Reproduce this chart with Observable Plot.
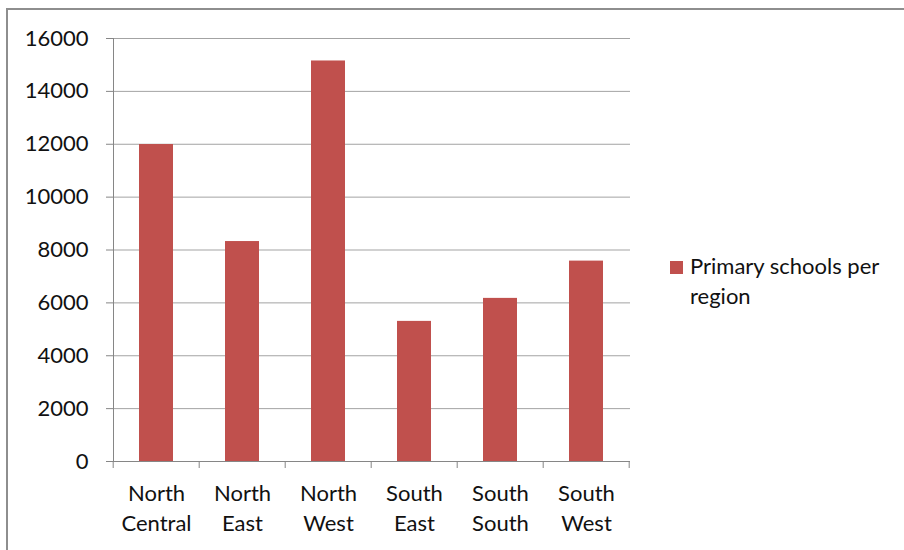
<!DOCTYPE html>
<html>
<head>
<meta charset="utf-8">
<script src="https://cdn.jsdelivr.net/npm/d3@7"></script>
<script src="https://cdn.jsdelivr.net/npm/@observablehq/plot@0.6"></script>
<style>
  html, body { margin: 0; padding: 0; background: #fff; overflow: hidden; }
  #wrap { position: relative; width: 904px; height: 550px; overflow: hidden; font-family: Lato, "Open Sans", sans-serif; }
  #border { position: absolute; left: 6px; top: 8px; width: 1200px; height: 1200px; border: 2px solid #8e8e8e; box-sizing: border-box; }
  #chart { position: absolute; left: 0; top: 0; }
  #legend { position: absolute; left: 670px; top: 251px; }
  #legend .swatch { position: absolute; left: 0; top: 10px; width: 13px; height: 13px; }
  #legend .label { position: absolute; left: 20px; top: 0; width: 220px; font-size: 22px; line-height: 30px; color: #111; }
</style>
</head>
<body>
<div id="wrap">
  <div id="border"></div>
  <div id="chart"></div>
  <div id="legend"><div class="swatch"></div><div class="label"></div></div>
</div>
<script>
// Number of primary schools in each region
const regions = ["North Central", "North East", "North West", "South East", "South South", "South West"];
const schools = [11990, 8320, 15150, 5300, 6170, 7580];
const yTicks = [0, 2000, 4000, 6000, 8000, 10000, 12000, 14000, 16000];
const seriesName = "Primary schools per region";
const barColor = "#C0504D";

const data = regions.map((region, i) => ({region, schools: schools[i]}));

const padInner = 0.6;
const padOuter = 0.3;

// Tick marks on the category axis, placed at the boundaries between bands
function bandBoundaries(index, scales) {
  const x = scales.x, y = scales.y;
  const step = x(regions[1]) - x(regions[0]);
  const edges = regions.map(r => x(r) - step * padOuter);
  edges.push(x(regions[regions.length - 1]) - step * padOuter + step);
  const y0 = y(0);
  const g = d3.create("svg:g").attr("stroke", "#868686").attr("stroke-width", 1);
  for (const e of edges) {
    g.append("line").attr("x1", e).attr("x2", e).attr("y1", y0).attr("y2", y0 + 7);
  }
  return g.node();
}

const chart = Plot.plot({
  width: 904,
  height: 550,
  marginLeft: 113,
  marginRight: 274,
  marginTop: 38,
  marginBottom: 89,
  style: {fontFamily: "Lato, 'Open Sans', sans-serif", fontSize: "22px", color: "#111", background: "transparent", overflow: "visible"},
  x: {type: "band", domain: regions, paddingInner: padInner, paddingOuter: padOuter, label: null},
  y: {domain: [0, 16000], label: null},
  marks: [
    Plot.gridY(yTicks, {stroke: "#a3a3a3", strokeOpacity: 1}),
    Plot.barY(data, {x: "region", y: "schools", fill: barColor}),
    Plot.axisY(yTicks, {tickSize: 7, tickPadding: 18, stroke: "#868686", fill: "#111", fontSize: 22, tickFormat: d3.format("d"), label: null}),
    Plot.axisX({tickSize: 0, tickPadding: 19, fill: "#111", fontSize: 22, lineHeight: 1.33, tickFormat: d => d.replace(" ", "\n"), label: null}),
    Plot.frame({anchor: "left", stroke: "#868686"}),
    Plot.ruleY([0], {stroke: "#868686"}),
    bandBoundaries
  ]
});
document.getElementById("chart").appendChild(chart);

document.querySelector("#legend .swatch").style.background = barColor;
document.querySelector("#legend .label").textContent = seriesName;
</script>
</body>
</html>
